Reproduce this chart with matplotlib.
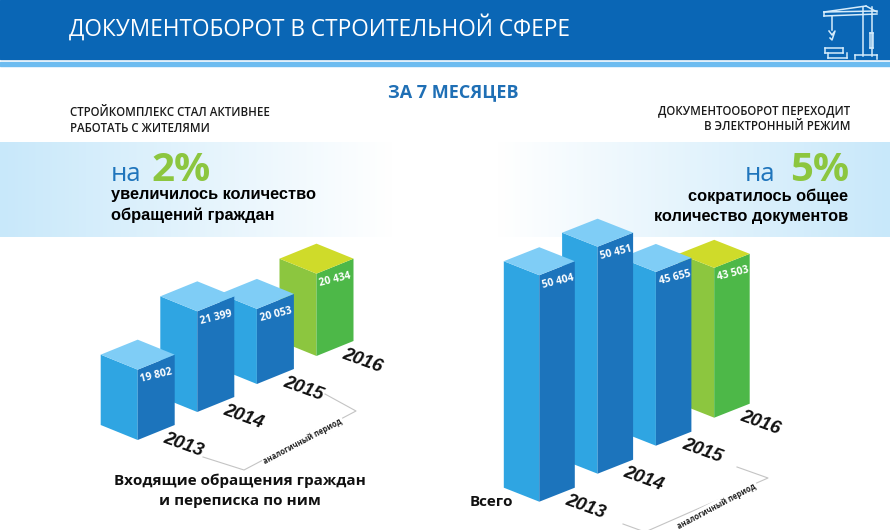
import numpy as np
import matplotlib
matplotlib.use('Agg')
import matplotlib.pyplot as plt
from matplotlib.patches import Polygon, Rectangle

years = ['2013', '2014', '2015', '2016']
requests = [19802, 21399, 20053, 20434]
documents = [50404, 50451, 45655, 43503]
request_labels = ['19 802', '21 399', '20 053', '20 434']
document_labels = ['50 404', '50 451', '45 655', '43 503']
bar_kinds = ['blue', 'blue', 'blue', 'green']

colors = {'blue': ('#7fcdf6', '#2fa5e2', '#1c74bc'),
          'green': ('#cfdb2a', '#8cc63f', '#4db848')}

plt.rcParams['font.family'] = ['Open Sans', 'DejaVu Sans']

fig = plt.figure(figsize=(8.9, 5.3), dpi=100)
ax = fig.add_axes([0, 0, 1, 1])
ax.axis('off')


def hgrad(y0, y1, edge):
    # light band fading to white in the middle
    t = np.abs(np.linspace(-1, 1, 890))
    t = np.clip((t - 0.12) / 0.88, 0, 1)[None, :, None]
    c = np.array(matplotlib.colors.to_rgb(edge))[None, None, :]
    img = 1 - t * (1 - c)
    ax.imshow(img, extent=(0, 890, y1, y0), aspect='auto', zorder=0)


# header
ax.add_patch(Rectangle((0, 0), 890, 59, color='#0a66b5', zorder=1))
ax.add_patch(Rectangle((0, 62), 890, 4, color='#6dbcf0', zorder=1))
hgrad(142, 237, '#c8e8fa')

ax.text(69, 28, 'ДОКУМЕНТОБОРОТ В СТРОИТЕЛЬНОЙ СФЕРЕ', color='white', fontsize=16.3,
        va='center', ha='left', zorder=3)

# crane icon
crane = [([824, 877], [12, 11]), ([824, 824], [12, 16]), ([824, 877], [16, 14]),
         ([824, 866], [12, 6]), ([866, 877], [6, 12]), ([863, 863], [7, 56]),
         ([872, 872], [7, 56]), ([832, 832], [16, 30]),
         ([825, 843], [48, 48]), ([825, 843], [53, 53]), ([825, 825], [48, 53]), ([843, 843], [48, 53]),
         ([828, 847], [58, 58]), ([828, 828], [53, 58]), ([847, 847], [53, 58]),
         ([855, 877], [55, 55]), ([855, 855], [55, 59]), ([877, 877], [55, 59]),
         ([870, 870], [33, 48]), ([873, 873], [33, 48]), ([870, 873], [33, 33]), ([870, 873], [48, 48])]
for xs, ys in crane:
    ax.plot(xs, ys, color='#d5ecfb', lw=1.1, zorder=3)
ax.plot([829, 832, 835, 832, 830], [31, 35, 31, 40, 38], color='#d5ecfb', lw=1.1, zorder=3)

ax.text(453, 92, 'ЗА 7 МЕСЯЦЕВ', color='#1f6fb5', fontsize=13, fontweight='bold',
        ha='center', va='center')
ax.text(70, 113, 'СТРОЙКОМПЛЕКС СТАЛ АКТИВНЕЕ', fontsize=8.3, fontweight='semibold',
        color='#1a1a1a', va='center')
ax.text(70, 129, 'РАБОТАТЬ С ЖИТЕЛЯМИ', fontsize=8.3, fontweight='semibold',
        color='#1a1a1a', va='center')
ax.text(850, 111, 'ДОКУМЕНТООБОРОТ ПЕРЕХОДИТ', fontsize=8.3, fontweight='semibold',
        color='#1a1a1a', va='center', ha='right')
ax.text(850, 127, 'В ЭЛЕКТРОННЫЙ РЕЖИМ', fontsize=8.3, fontweight='semibold',
        color='#1a1a1a', va='center', ha='right')

ax.text(111, 181, 'на', color='#1f75bc', fontsize=18.5, va='baseline', zorder=3)
ax.text(151, 181, '2%', color='#8cc63f', fontsize=29, fontweight='bold', va='baseline', zorder=3)
ax.text(775, 181, 'на', color='#1f75bc', fontsize=18.5, va='baseline', ha='right', zorder=3)
ax.text(849, 181, '5%', color='#8cc63f', fontsize=29, fontweight='bold', va='baseline', ha='right', zorder=3)

body = ['Liberation Sans', 'DejaVu Sans']
ax.text(111, 195, 'увеличилось количество', fontsize=11.8, fontweight='bold', family=body, va='center', zorder=3)
ax.text(111, 215, 'обращений граждан', fontsize=11.8, fontweight='bold', family=body, va='center', zorder=3)
ax.text(848, 196, 'сократилось общее', fontsize=11.8, fontweight='bold', family=body, va='center', ha='right', zorder=3)
ax.text(848, 216, 'количество документов', fontsize=11.8, fontweight='bold', family=body, va='center', ha='right', zorder=3)


def bar3d(x, y, h, half, depth, kind, z):
    top, left, right = colors[kind]
    yt = y - h
    ax.add_patch(Polygon([(x - half, yt - depth), (x, yt), (x, y), (x - half, y - depth)], color=left, lw=0, zorder=z))
    ax.add_patch(Polygon([(x + half, yt - depth), (x, yt), (x, y), (x + half, y - depth)], color=right, lw=0, zorder=z))
    ax.add_patch(Polygon([(x - half, yt - depth), (x, yt), (x + half, yt - depth), (x, yt - 2 * depth)], color=top, lw=0, zorder=z))


def panel(values, labels, x0, y0, dx, dy, half, depth, base, scale):
    for i, v in enumerate(values):
        x = x0 + dx * i
        y = y0 - dy * i
        h = (v - base) * scale
        z = 10 - i
        bar3d(x, y, h, half, depth, bar_kinds[i], z)
        ax.text(x + 19, y - h + 6, labels[i], color='white', fontsize=7.5,
                fontweight='bold', rotation=14, ha='center', va='center', zorder=z + 0.5,
                rotation_mode='anchor')
        ax.text(x + 46, y + 5, years[i], color='#111111', fontsize=13.5,
                fontweight='bold', fontstyle='italic', family=body, rotation=-20,
                ha='center', va='center', zorder=12)


panel(requests, request_labels, 137.7, 440, 59.6, 28, 37, 15, 16100, 0.019)
panel(documents, document_labels, 539.3, 501.7, 58.3, 28, 35.5, 14, 30000, 0.0111)


def bracket(pts, tx, ty, rot):
    xs = [p[0] for p in pts]
    ys = [p[1] for p in pts]
    ax.plot(xs, ys, color='#c4c4c4', lw=0.8, zorder=2)
    ax.text(tx, ty, 'аналогичный период', fontsize=5.5, fontweight='bold', color='#222222', rotation=rot,
            ha='center', va='center', zorder=3,
            bbox=dict(facecolor='white', edgecolor='none', pad=1))


bracket([(203, 457), (244, 470), (356, 411), (325, 394)], 303, 441, 28)
bracket([(623, 524), (645, 532), (768, 478), (737, 467)], 717, 506, 28)

ax.text(240, 481, 'Входящие обращения граждан', fontsize=11, fontweight='bold', ha='center', va='center', color='#111111', zorder=13)
ax.text(240, 501, 'и переписка по ним', fontsize=11, fontweight='bold', ha='center', va='center', color='#111111', zorder=13)
ax.text(470, 502, 'Всего', fontsize=11, fontweight='bold', va='center', color='#111111', zorder=13)

ax.set_xlim(0, 890)
ax.set_ylim(530, 0)
fig.savefig('out.png', dpi=100)
